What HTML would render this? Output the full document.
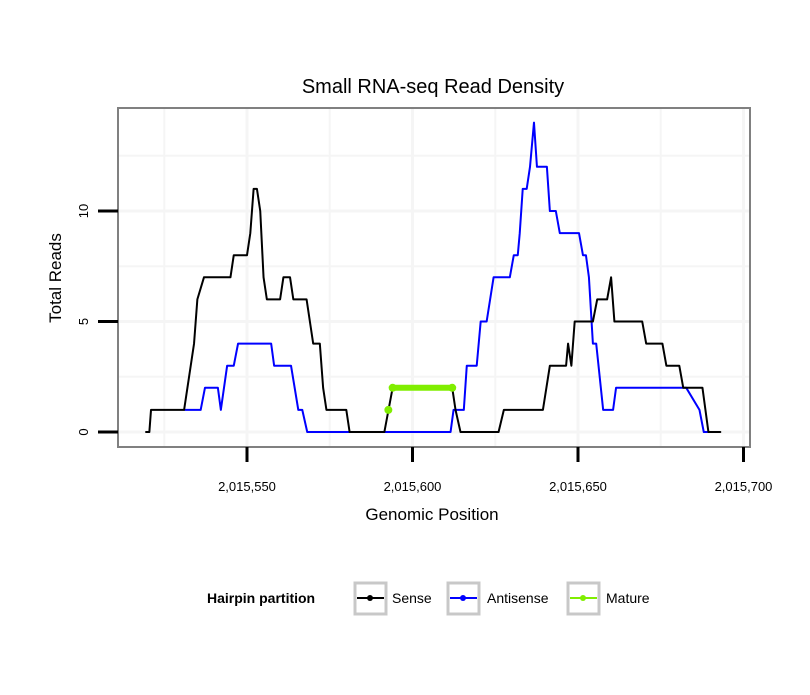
<!DOCTYPE html>
<html><head><meta charset="utf-8"><style>
body{margin:0;background:#fff;font-family:"Liberation Sans",sans-serif}
svg text{font-family:"Liberation Sans",sans-serif}
</style></head><body>
<svg id="chart" width="810" height="690" viewBox="0 0 810 690">
<rect width="810" height="690" fill="#fff"/>
<text x="433" y="93" font-size="20" text-anchor="middle">Small RNA-seq Read Density</text>
<g id="grid"></g>
<g id="series"></g>
<rect x="118" y="108" width="632" height="339" fill="none" stroke="#808080" stroke-width="2"/>
<g id="axes"></g>
<text x="432" y="520" font-size="17" text-anchor="middle">Genomic Position</text>
<text transform="translate(61,278) rotate(-90)" font-size="17" text-anchor="middle">Total Reads</text>
<g>
<text x="207" y="603" font-size="14" font-weight="bold">Hairpin partition</text>
<g>
<rect x="355" y="583" width="31" height="31" fill="#fff" stroke="#c8c8c8" stroke-width="3"/>
<line x1="357" y1="598" x2="384" y2="598" stroke="#000" stroke-width="2"/><circle cx="370" cy="598" r="3" fill="#000"/>
<text x="392" y="603" font-size="14">Sense</text></g>
<g>
<rect x="448" y="583" width="31" height="31" fill="#fff" stroke="#c8c8c8" stroke-width="3"/>
<line x1="450" y1="598" x2="477" y2="598" stroke="#0000ff" stroke-width="2"/><circle cx="463" cy="598" r="3" fill="#0000ff"/>
<text x="487" y="603" font-size="14">Antisense</text></g>
<g>
<rect x="568" y="583" width="31" height="31" fill="#fff" stroke="#c8c8c8" stroke-width="3"/>
<line x1="570" y1="598" x2="597" y2="598" stroke="#80ee00" stroke-width="2"/><circle cx="583" cy="598" r="3" fill="#80ee00"/>
<text x="606" y="603" font-size="14">Mature</text></g>
</g>
</svg>
<script>
const xTicks=[2015550,2015600,2015650,2015700];
const xTickLabels=["2,015,550","2,015,600","2,015,650","2,015,700"];
const yTicks=[0,5,10];
const yTickLabels=["0","5","10"];
const senseX=[519.5,520.5,521,531,534,535,537,545,546,550,551,552,553,554,555,556,560,561,563,564,568,570,572,573,574,580,581,591.5,594,612,613,614.5,626,627.6,639.4,641.5,646.4,647,648,649,654.5,655.8,658.8,660,661,669.4,670.6,675.5,676.7,680.6,681.8,687.6,689.4,693];
const senseY=[0,0,1,1,4,6,7,7,8,8,9,11,11,10,7,6,6,7,7,6,6,4,4,2,1,1,0,0,2,2,1,0,0,1,1,3,3,4,3,5,5,6,6,7,5,5,4,4,3,3,2,2,0,0];
const antiX=[531.2,536,537.3,541.2,542.1,544,546,547.3,557.3,558.2,563.3,565.5,566.7,568.2,611.5,612.4,615.5,616.4,619.4,620.6,622.4,624.5,629.4,630.6,631.8,632.4,633.3,634.5,635.5,636.7,637.6,640.6,641.5,643.3,644.5,650.3,651.5,652.4,653.3,654.5,655.5,657.6,660.6,661.5,682.7,686.7,688,689.4];
const antiY=[1,1,2,2,1,3,3,4,4,3,3,1,1,0,0,1,1,3,3,5,5,7,7,8,8,9,11,11,12,14,12,12,10,10,9,9,8,8,7,4,4,1,1,2,2,1,0,0];
const matureX=[592.7,594,612];
const matureY=[1,2,2];
const NS="http://www.w3.org/2000/svg";
function sx(p){return 247+(p+(p<100000?2015000:0)-2015550)*3.31;}
function sy(v){return 432-v*22.1;}
function mk(tag,attrs,parent){const e=document.createElementNS(NS,tag);for(const k in attrs)e.setAttribute(k,attrs[k]);parent.appendChild(e);return e;}
const grid=document.getElementById('grid'),axes=document.getElementById('axes'),ser=document.getElementById('series');
for(let v=0;v<=12.5;v+=2.5){const l=mk('line',{x1:118,x2:750,y1:sy(v),y2:sy(v),stroke:'#f5f5f5','stroke-width':v%5===0?3:2},grid);

}
for(let p=2015525;p<=2015700;p+=25){const x=sx(p);if(x<118||x>750)continue;const l=mk('line',{x1:x,x2:x,y1:108,y2:447,stroke:'#f5f5f5','stroke-width':p%50===0?3:2},grid);

}
xTicks.forEach((t,i)=>{const x=sx(t);
const l=mk('line',{x1:x,x2:x,y1:447,y2:462,stroke:'#000','stroke-width':3},axes);


const tx=mk('text',{x:x,y:491,'font-size':13,'text-anchor':'middle'},axes);tx.textContent=xTickLabels[i];

});
yTicks.forEach((t,i)=>{const y=sy(t);
const l=mk('line',{x1:98,x2:118,y1:y,y2:y,stroke:'#000','stroke-width':3},axes);


const tx=mk('text',{transform:`translate(88,${y}) rotate(-90)`,'font-size':13,'text-anchor':'middle'},axes);tx.textContent=yTickLabels[i];

});
function line(xs,ys,color,w,name){const pts=xs.map((p,i)=>sx(p)+','+sy(ys[i])).join(' ');
const pl=mk('polyline',{points:pts,fill:'none',stroke:color,'stroke-width':w,'stroke-linejoin':'round','stroke-linecap':'round'},ser);

}
line(antiX,antiY,'#0000ff',2,'antisense-line');
line(senseX,senseY,'#000',2,'sense-line');
// mature: draw dots at each point, connect only equal-value neighbours
matureX.forEach((p,i)=>{
const c=mk('circle',{cx:sx(p),cy:sy(matureY[i]),r:4,fill:'#80ee00'},ser);


if(i>0&&matureY[i]===matureY[i-1]){
const l=mk('line',{x1:sx(matureX[i-1]),y1:sy(matureY[i-1]),x2:sx(p),y2:sy(matureY[i]),stroke:'#80ee00','stroke-width':6,'stroke-linecap':'round'},ser);

}
});
</script>
</body></html>
